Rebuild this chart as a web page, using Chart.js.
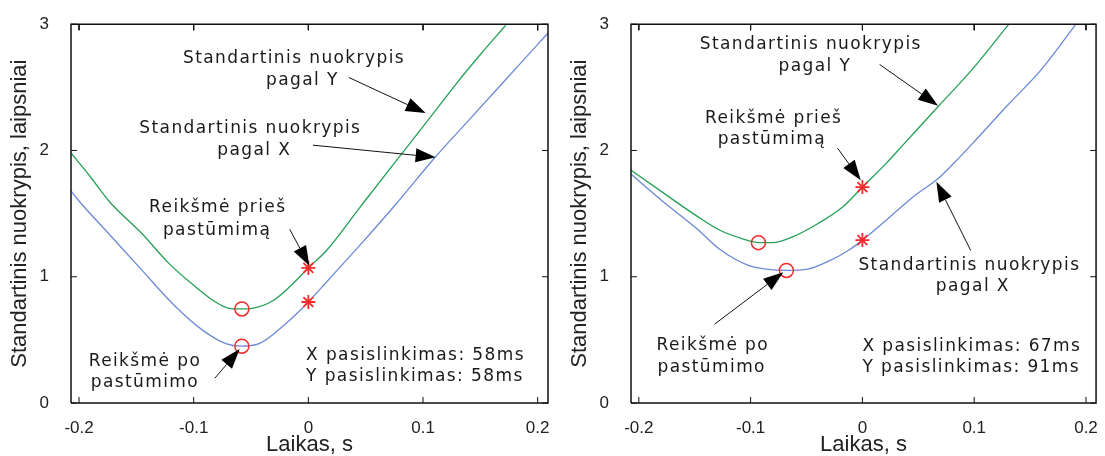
<!DOCTYPE html>
<html>
<head>
<meta charset="utf-8">
<script src="https://cdn.jsdelivr.net/npm/chart.js@4.4.1/dist/chart.umd.min.js"></script>
<style>
  html, body { margin: 0; padding: 0; background: #fff; }
  .panel { position: absolute; top: 0; height: 456px; }
  #leftBox { left: 0; width: 560px; }
  #rightBox { left: 560px; width: 545px; }
</style>
</head>
<body>
<div class="panel" id="leftBox"><canvas id="leftChart"></canvas></div>
<div class="panel" id="rightBox"><canvas id="rightChart"></canvas></div>
<script>
const xTicks = [-0.2, -0.1, 0, 0.1, 0.2];
const yTicks = [0, 1, 2, 3];
const xLimits = [-0.207, 0.209];
const yLimits = [0, 3];

// kairysis grafikas (58ms / 58ms)
const leftGreenTime = [-0.207, -0.19, -0.174, -0.145, -0.121, -0.101, -0.081, -0.069, -0.059, -0.049, -0.031, -0.014, 0, 0.016, 0.045, 0.075, 0.101, 0.13, 0.15, 0.172];
const leftGreenStd = [1.98, 1.79, 1.60, 1.34, 1.10, 0.94, 0.80, 0.75, 0.745, 0.75, 0.81, 0.94, 1.07, 1.21, 1.55, 1.90, 2.20, 2.54, 2.76, 2.99];
const leftBlueTime = [-0.207, -0.2, -0.174, -0.145, -0.1155, -0.092, -0.072, -0.059, -0.043, -0.0195, 0, 0.018, 0.045, 0.075, 0.11, 0.14, 0.17, 0.2, 0.209];
const leftBlueStd = [1.68, 1.60, 1.34, 1.05, 0.76, 0.575, 0.47, 0.45, 0.47, 0.63, 0.80, 0.98, 1.25, 1.56, 1.94, 2.24, 2.54, 2.84, 2.93];
const leftCircleTime = [-0.058, -0.058];
const leftCircleStd = [0.745, 0.45];
const leftStarTime = [0, 0];
const leftStarStd = [1.07, 0.80];
const leftShift = ['X pasislinkimas: 58ms', 'Y pasislinkimas: 58ms'];

// dešinysis grafikas (67ms / 91ms)
const rightGreenTime = [-0.208, -0.179, -0.148, -0.128, -0.107, -0.093, -0.08, -0.0615, -0.04, -0.018, 0, 0.0215, 0.037, 0.068, 0.098, 0.131];
const rightGreenStd = [1.85, 1.67, 1.48, 1.37, 1.30, 1.27, 1.27, 1.32, 1.42, 1.55, 1.71, 1.90, 2.05, 2.35, 2.64, 3.0];
const rightBlueTime = [-0.208, -0.179, -0.148, -0.128, -0.102, -0.086, -0.068, -0.049, -0.031, -0.0123, 0, 0.0215, 0.045, 0.068, 0.083, 0.098, 0.129, 0.16, 0.191];
const rightBlueStd = [1.82, 1.60, 1.38, 1.22, 1.09, 1.06, 1.05, 1.06, 1.12, 1.21, 1.29, 1.45, 1.63, 1.78, 1.91, 2.05, 2.35, 2.64, 3.0];
const rightCircleTime = [-0.093, -0.068];
const rightCircleStd = [1.27, 1.05];
const rightStarTime = [0, 0];
const rightStarStd = [1.71, 1.29];
const rightShift = ['X pasislinkimas: 67ms', 'Y pasislinkimas: 91ms'];

// užrašų ir rodyklių vietos (duomenų vienetais)
const leftNotes = [
  { text: 'Standartinis nuokrypis', x: -0.0125, y: 2.726 },
  { text: 'pagal Y', x: -0.0052, y: 2.555 },
  { text: 'Standartinis nuokrypis', x: -0.0506, y: 2.173 },
  { text: 'pagal X', x: -0.0472, y: 2.0 },
  { text: 'Reikšmė prieš', x: -0.079, y: 1.546 },
  { text: 'pastūmimą', x: -0.0796, y: 1.367 },
  { text: 'Reikšmė po', x: -0.1425, y: 0.327 },
  { text: 'pastūmimo', x: -0.1425, y: 0.165 },
  { text: leftShift[0], x: -0.002, y: 0.375, align: 'left' },
  { text: leftShift[1], x: -0.002, y: 0.209, align: 'left' }
];
const leftArrows = [
  { from: [0.0353, 2.578], to: [0.1023, 2.296] },
  { from: [0.004, 2.042], to: [0.111, 1.946] },
  { from: [-0.0162, 1.375], to: [0.0009, 1.086] },
  { from: [-0.0817, 0.195], to: [-0.0599, 0.427] }
];
const rightNotes = [
  { text: 'Standartinis nuokrypis', x: -0.0462, y: 2.835 },
  { text: 'pagal Y', x: -0.0425, y: 2.668 },
  { text: 'Reikšmė prieš', x: -0.0794, y: 2.256 },
  { text: 'pastūmimą', x: -0.081, y: 2.084 },
  { text: 'Standartinis nuokrypis', x: 0.0957, y: 1.088 },
  { text: 'pagal X', x: 0.0988, y: 0.921 },
  { text: 'Reikšmė po', x: -0.1338, y: 0.451 },
  { text: 'pastūmimo', x: -0.1348, y: 0.279 },
  { text: rightShift[0], x: 0, y: 0.446, align: 'left' },
  { text: rightShift[1], x: 0, y: 0.279, align: 'left' }
];
const rightArrows = [
  { from: [0.0154, 2.681], to: [0.0677, 2.355] },
  { from: [-0.0222, 2.018], to: [-0.0015, 1.765] },
  { from: [0.0969, 1.208], to: [0.0662, 1.752] },
  { from: [-0.1323, 0.624], to: [-0.0708, 1.035] }
];

const axisFont = 'Liberation Sans, Arial, sans-serif';

function pairs(xs, ys) {
  return xs.map((x, i) => ({ x: x, y: ys[i] }));
}

// rėmelis kaip atskira linija per ašių ribas
function framePoints() {
  const [x0, x1] = xLimits, [y0, y1] = yLimits;
  return [{ x: x0, y: y0 }, { x: x1, y: y0 }, { x: x1, y: y1 }, { x: x0, y: y1 }, { x: x0, y: y0 }];
}

// vidinės žymės (Matlab stilius), atskirtos tarpais
function tickPoints() {
  const [x0, x1] = xLimits, [y0, y1] = yLimits;
  const dy = (y1 - y0) * 0.016, dx = (x1 - x0) * 0.0125;
  const pts = [];
  xTicks.forEach(v => {
    pts.push({ x: v, y: y0 }, { x: v, y: y0 + dy }, { x: v, y: null });
    pts.push({ x: v, y: y1 }, { x: v, y: y1 - dy }, { x: v, y: null });
  });
  yTicks.forEach(v => {
    pts.push({ x: x0, y: v }, { x: x0 + dx, y: v }, { x: x0 + dx, y: null });
    pts.push({ x: x1 - dx, y: v }, { x: x1, y: v }, { x: x1, y: null });
  });
  return pts;
}

// užrašai ir rodyklės
function notesPlugin(notes, arrows) {
  return {
    id: 'notes',
    afterDraw(chart) {
      const ctx = chart.ctx;
      const sx = chart.scales.x, sy = chart.scales.y;
      const px = (x, y) => [sx.getPixelForValue(x), sy.getPixelForValue(y)];
      ctx.save();
      ctx.fillStyle = '#1a1a1a';
      ctx.font = '17px "DejaVu Sans"';
      ctx.letterSpacing = '1.4px';
      ctx.textBaseline = 'middle';
      notes.forEach(n => {
        const [x, y] = px(n.x, n.y);
        ctx.textAlign = n.align || 'center';
        ctx.fillText(n.text, x, y);
      });
      ctx.strokeStyle = '#111';
      ctx.lineWidth = 1;
      ctx.fillStyle = '#000';
      arrows.forEach(ar => {
        const [x0, y0] = px(ar.from[0], ar.from[1]);
        const [x1, y1] = px(ar.to[0], ar.to[1]);
        const ang = Math.atan2(y1 - y0, x1 - x0);
        const len = 20, half = 7;
        const bx = x1 - len * Math.cos(ang), by = y1 - len * Math.sin(ang);
        ctx.beginPath();
        ctx.moveTo(x0, y0);
        ctx.lineTo(bx, by);
        ctx.stroke();
        ctx.beginPath();
        ctx.moveTo(x1, y1);
        ctx.lineTo(bx + half * Math.sin(ang), by - half * Math.cos(ang));
        ctx.lineTo(bx - half * Math.sin(ang), by + half * Math.cos(ang));
        ctx.closePath();
        ctx.fill();
      });
      ctx.restore();
    }
  };
}

function makeChart(id, p) {
  return new Chart(document.getElementById(id), {
    type: 'line',
    data: {
      datasets: [
        {
          data: framePoints(),
          borderColor: '#111',
          borderWidth: 1.5,
          pointRadius: 0,
          tension: 0,
          clip: false,
          order: -1
        },
        {
          data: tickPoints(),
          borderColor: '#111',
          borderWidth: 1,
          pointRadius: 0,
          tension: 0,
          spanGaps: false,
          clip: false,
          order: -1
        },
        {
          data: pairs(p.circleTime, p.circleStd),
          showLine: false,
          pointStyle: 'circle',
          pointRadius: 7,
          pointBorderColor: '#f22b2b',
          pointBackgroundColor: 'rgba(0,0,0,0)',
          pointBorderWidth: 1.5,
          order: 0
        },
        {
          data: pairs(p.starTime, p.starStd),
          showLine: false,
          pointStyle: 'star',
          pointRadius: 7,
          pointBorderColor: '#f22b2b',
          pointBackgroundColor: '#f22b2b',
          pointBorderWidth: 1.8,
          order: 0
        },
        {
          data: pairs(p.greenTime, p.greenStd),
          borderColor: '#25a058',
          borderWidth: 1.3,
          pointRadius: 0,
          cubicInterpolationMode: 'monotone',
          order: 1
        },
        {
          data: pairs(p.blueTime, p.blueStd),
          borderColor: '#6b8ad6',
          borderWidth: 1.3,
          pointRadius: 0,
          cubicInterpolationMode: 'monotone',
          order: 1
        }
      ]
    },
    options: {
      responsive: true,
      maintainAspectRatio: false,
      animation: false,
      layout: { padding: { top: 22, right: p.padRight, left: 0, bottom: 0 } },
      plugins: {
        legend: { display: false },
        tooltip: { enabled: false }
      },
      scales: {
        x: {
          type: 'linear',
          min: xLimits[0],
          max: xLimits[1],
          grid: { display: false },
          border: { display: false },
          afterBuildTicks: s => { s.ticks = xTicks.map(v => ({ value: v })); },
          afterFit: s => { s.height = 53; },
          ticks: {
            padding: 7,
            color: '#222',
            maxRotation: 0,
            autoSkip: false,
            font: { family: axisFont, size: 17 },
            callback: v => (v === 0 ? '0' : v.toFixed(1))
          },
          title: {
            display: true,
            text: 'Laikas, s',
            color: '#222',
            font: { family: axisFont, size: 22, lineHeight: 1 },
            padding: { top: 0, bottom: 0 }
          }
        },
        y: {
          min: yLimits[0],
          max: yLimits[1],
          grid: { display: false },
          border: { display: false },
          afterBuildTicks: s => { s.ticks = yTicks.map(v => ({ value: v })); },
          afterFit: s => { s.width = 71; },
          ticks: {
            padding: 14,
            color: '#222',
            font: { family: axisFont, size: 17 },
            callback: v => String(v)
          },
          title: {
            display: true,
            text: 'Standartinis nuokrypis, laipsniai',
            color: '#222',
            font: { family: axisFont, size: 22, lineHeight: 1 },
            padding: { top: 9, bottom: 0 }
          }
        }
      }
    },
    plugins: [notesPlugin(p.notes, p.arrows)]
  });
}

makeChart('leftChart', {
  greenTime: leftGreenTime, greenStd: leftGreenStd,
  blueTime: leftBlueTime, blueStd: leftBlueStd,
  circleTime: leftCircleTime, circleStd: leftCircleStd,
  starTime: leftStarTime, starStd: leftStarStd,
  notes: leftNotes, arrows: leftArrows,
  padRight: 12
});

makeChart('rightChart', {
  greenTime: rightGreenTime, greenStd: rightGreenStd,
  blueTime: rightBlueTime, blueStd: rightBlueStd,
  circleTime: rightCircleTime, circleStd: rightCircleStd,
  starTime: rightStarTime, starStd: rightStarStd,
  notes: rightNotes, arrows: rightArrows,
  padRight: 3
});
</script>
</body>
</html>
